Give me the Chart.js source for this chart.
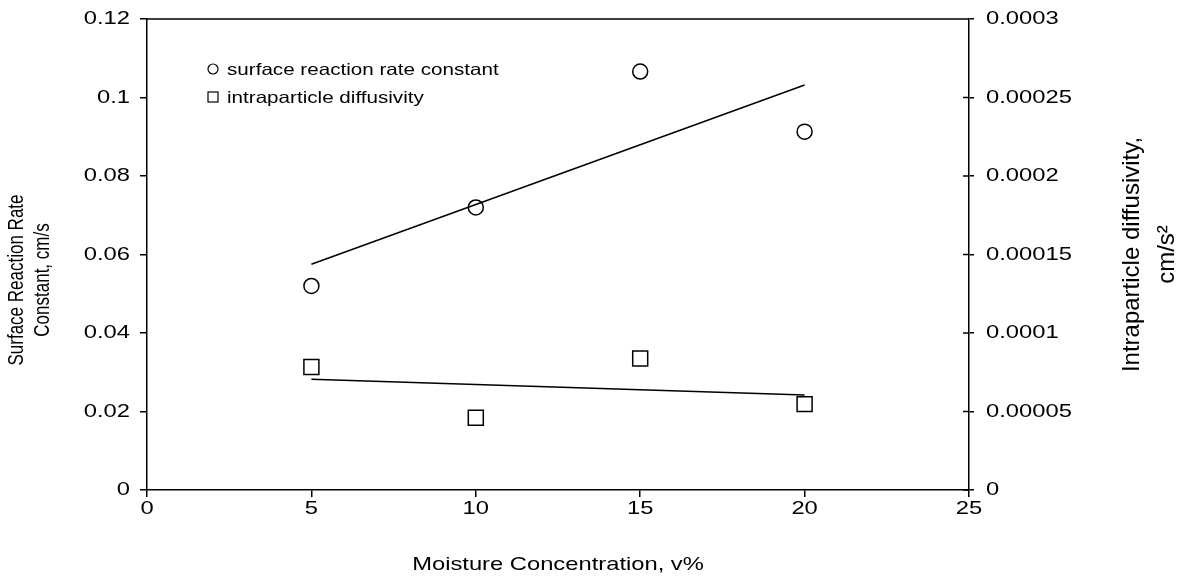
<!DOCTYPE html>
<html>
<head>
<meta charset="utf-8">
<style>
  html, body { margin: 0; padding: 0; background: #fff; }
</style>
</head>
<body>
<canvas id="moistureChart" width="1178" height="578"></canvas>
<script src="https://cdn.jsdelivr.net/npm/chart.js"></script>
<script>
// values
const moisture = [5, 10, 15, 20];
const surfaceRate = [0.052, 0.072, 0.1066, 0.0913];
const diffusivity = [0.0000784, 0.000046, 0.0000837, 0.0000547];
const trendX = [5, 20];
const surfaceTrend = [0.0575, 0.1032];
const diffusivityTrend = [0.0000705, 0.0000605];

const xTickLabels = ['0', '5', '10', '15', '20', '25'];
const leftTickLabels = ['0', '0.02', '0.04', '0.06', '0.08', '0.1', '0.12'];
const rightTickLabels = ['0', '0.00005', '0.0001', '0.00015', '0.0002', '0.00025', '0.0003'];

const seriesLabels = ['surface reaction rate constant', 'intraparticle diffusivity'];
const leftTitle = ['Surface Reaction Rate', 'Constant, cm/s'];
const rightTitle = ['Intraparticle diffusivity,', 'cm/s\u00B2'];

const FONT = 'Arial, "Liberation Sans", sans-serif';
const STRETCH = 1.25; // the reference text is drawn wider than it is tall
let stretchOn = true;

Chart.defaults.font.family = FONT;
Chart.defaults.color = '#000';

function pairs(xs, ys) {
    return xs.map((x, i) => ({ x: x, y: ys[i] }));
}

// widen every label horizontally (screen x) around its anchor point
const stretchText = {
    id: 'stretchText',
    beforeDraw(chart) {
        const ctx = chart.ctx;
        if (ctx._stretched) return;
        ctx._stretched = true;
        const fill = ctx.fillText.bind(ctx);
        ctx.fillText = function (text, x, y) {
            if (!stretchOn) { fill(text, x, y); return; }
            const m = ctx.getTransform();
            const p = m.transformPoint(new DOMPoint(x, y));
            const s = new DOMMatrix().translate(p.x, p.y).scale(STRETCH, 1).translate(-p.x, -p.y);
            ctx.save();
            ctx.setTransform(s.multiply(m));
            fill(text, x, y);
            ctx.restore();
        };
    }
};

function drawVertical(ctx, lines, xs, cy) {
    lines.forEach((line, i) => {
        ctx.save();
        ctx.translate(xs[i], cy);
        ctx.rotate(-Math.PI / 2);
        ctx.fillText(line, 0, 0);
        ctx.restore();
    });
}

// top frame line, inner right ticks, legend box and the two y titles
const extras = {
    id: 'extras',
    afterDraw(chart) {
        const ctx = chart.ctx;
        const area = chart.chartArea;
        const y1 = chart.scales.y1;
        ctx.save();
        ctx.strokeStyle = '#000';
        ctx.lineWidth = 1.5;
        ctx.beginPath();
        ctx.moveTo(area.left, area.top);
        ctx.lineTo(area.right, area.top);
        y1.ticks.forEach(t => {
            const py = y1.getPixelForValue(t.value);
            ctx.moveTo(area.right - 6, py);
            ctx.lineTo(area.right, py);
        });
        ctx.stroke();

        // legend
        const lx = area.left + 66, ly1 = area.top + 50, ly2 = area.top + 78;
        ctx.lineWidth = 1.2;
        ctx.beginPath();
        ctx.arc(lx, ly1, 5, 0, Math.PI * 2);
        ctx.stroke();
        ctx.strokeRect(lx - 5, ly2 - 5, 10, 10);
        ctx.fillStyle = '#000';
        ctx.font = '16.5px ' + FONT;
        ctx.textAlign = 'left';
        ctx.textBaseline = 'middle';
        ctx.fillText(seriesLabels[0], lx + 14, ly1 + 1);
        ctx.fillText(seriesLabels[1], lx + 14, ly2 + 1);

        ctx.textAlign = 'center';
        ctx.font = '17px ' + FONT;
        drawVertical(ctx, leftTitle, [17, 43], 280);

        // right title is not widened in the reference
        stretchOn = false;
        ctx.font = '24px ' + FONT;
        drawVertical(ctx, rightTitle, [1132, 1167], (area.top + area.bottom) / 2);
        stretchOn = true;
        ctx.restore();
    }
};

const axisGrid = { drawOnChartArea: false, drawTicks: true, color: '#000', lineWidth: 1.5 };
const axisBorder = { display: true, color: '#000', width: 1.5 };

function fixY(width) {
    return s => {
        s.width = width;
        s.paddingTop = 0;
        s.paddingBottom = 0;
    };
}

const ctx = document.getElementById('moistureChart');
const moistureChart = new Chart(ctx, {
    type: 'scatter',
    data: {
        datasets: [
            {
                label: seriesLabels[0],
                data: pairs(moisture, surfaceRate),
                yAxisID: 'y',
                pointStyle: 'circle',
                pointRadius: 7.5,
                pointBorderWidth: 1.5,
                borderColor: '#000',
                backgroundColor: 'transparent'
            },
            {
                label: seriesLabels[1],
                data: pairs(moisture, diffusivity),
                yAxisID: 'y1',
                pointStyle: 'rect',
                pointRadius: 10.6,
                pointBorderWidth: 1.5,
                borderColor: '#000',
                backgroundColor: 'transparent'
            },
            {
                label: 'surface trend',
                data: pairs(trendX, surfaceTrend),
                yAxisID: 'y',
                showLine: true,
                pointRadius: 0,
                borderColor: '#000',
                borderWidth: 1.5
            },
            {
                label: 'diffusivity trend',
                data: pairs(trendX, diffusivityTrend),
                yAxisID: 'y1',
                showLine: true,
                pointRadius: 0,
                borderColor: '#000',
                borderWidth: 1.5
            }
        ]
    },
    options: {
        responsive: false,
        animation: false,
        devicePixelRatio: 1,
        layout: { padding: { top: 19, left: 0, right: 0, bottom: 0 } },
        plugins: {
            legend: { display: false },
            tooltip: { enabled: false }
        },
        scales: {
            x: {
                type: 'linear',
                min: 0,
                max: 25,
                grid: Object.assign({ tickLength: 7 }, axisGrid),
                border: axisBorder,
                ticks: {
                    stepSize: 5,
                    padding: 0,
                    font: { size: 19 },
                    callback: (v, i) => xTickLabels[i]
                },
                title: {
                    display: true,
                    text: 'Moisture Concentration, v%',
                    font: { size: 19 },
                    padding: { top: 0, bottom: 2 }
                },
                afterFit: s => { s.height = 88; }
            },
            y: {
                position: 'left',
                min: 0,
                max: 0.12,
                grid: Object.assign({ tickLength: 7 }, axisGrid),
                border: axisBorder,
                ticks: {
                    stepSize: 0.02,
                    padding: 10,
                    font: { size: 19 },
                    callback: (v, i) => leftTickLabels[i]
                },
                afterFit: fixY(147)
            },
            y1: {
                position: 'right',
                min: 0,
                max: 0.0003,
                grid: Object.assign({ tickLength: 5 }, axisGrid),
                border: axisBorder,
                ticks: {
                    stepSize: 0.00005,
                    padding: 12,
                    font: { size: 19 },
                    callback: (v, i) => rightTickLabels[i]
                },
                afterFit: fixY(209)
            }
        }
    },
    plugins: [stretchText, extras]
});
</script>
</body>
</html>
